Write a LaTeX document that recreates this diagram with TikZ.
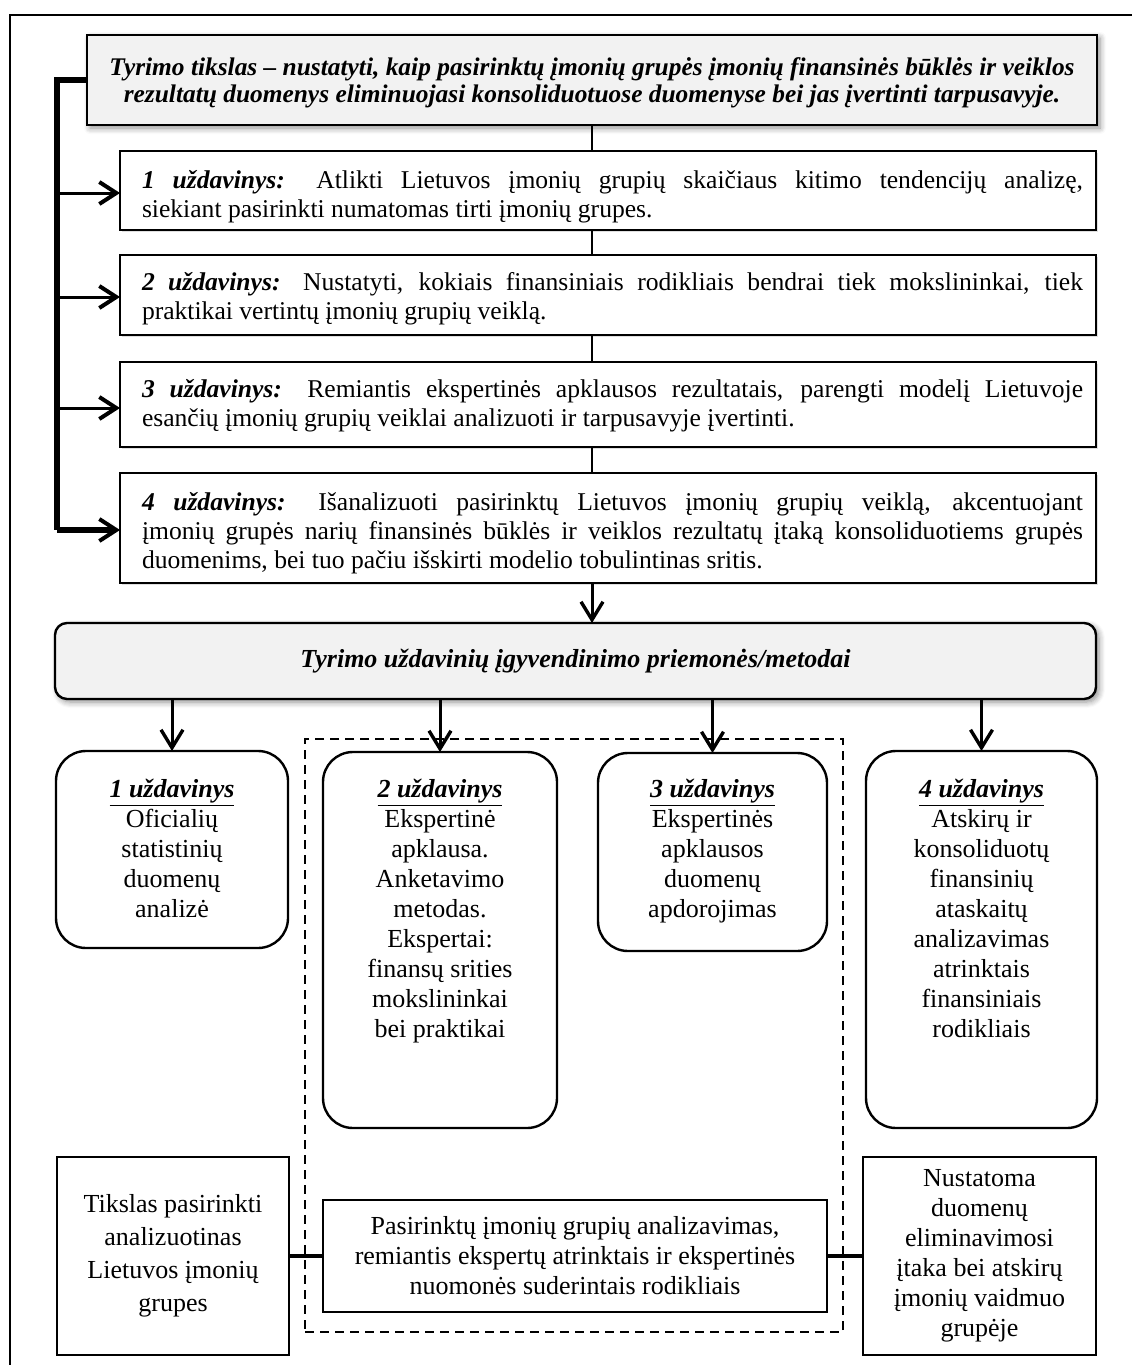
\documentclass[tikz,border=0pt]{standalone}
\usepackage{fontspec}
\setmainfont{Liberation Serif}
\usetikzlibrary{arrows.meta,shadows,shadows.blur}

\definecolor{boxgray}{RGB}{242,242,242}

\newcommand{\taskfont}{\fontsize{12.8pt}{14.5pt}\selectfont}
\newcommand{\bodyfont}{\fontsize{13pt}{15pt}\selectfont}
\newcommand{\firstline}{\rule{0pt}{11pt}}
\newcommand{\tasklabel}[1]{\firstline\textbf{\textit{#1}}}
\newcommand{\headlabel}[1]{\underline{\textbf{\textit{#1}}}}

\begin{document}
\begin{tikzpicture}[x=0.5pt,y=-0.5pt,
  every node/.style={inner sep=0pt,outer sep=0pt},
  frameline/.style={line width=1pt},
  plainbox/.style={draw,line width=1.2pt,fill=white},
  taskbox/.style={plainbox,minimum width=488pt,
    drop shadow={shadow xshift=1pt,shadow yshift=-1pt,opacity=0.25}},
  graybox/.style={draw,line width=1.2pt,fill=boxgray,
    blur shadow={shadow xshift=1.5pt,shadow yshift=-1.5pt,shadow blur radius=3pt,shadow blur steps=6,shadow opacity=45}},
  roundbox/.style={plainbox,rounded corners=15pt},
  tasktext/.style={text width=470.5pt,align=justify,font=\taskfont,anchor=north},
  bodytext/.style={align=center,font=\bodyfont},
  bus/.style={line width=3pt},
  link/.style={line width=1.2pt},
  feedtip/.style={-{Straight Barb[length=8.5pt,width=11pt,line width=2pt]}},
  feed/.style={line width=1.5pt,feedtip},
  drop/.style={line width=1.5pt,-{Straight Barb[length=9pt,width=11pt,line width=1.7pt]}},
  outlink/.style={line width=2pt},
  group/.style={draw,line width=1pt,dash pattern=on 4.5pt off 3pt}
]
\useasboundingbox (0,0) rectangle (1140,1365);

% page frame
\draw[frameline] (10,1370) -- (10,15) -- (1132,15);

% research goal
\node[graybox,minimum width=505pt,minimum height=45pt] (goal) at (592,80) {};
\node[align=center,font=\fontsize{12.7pt}{13.5pt}\selectfont\bfseries\itshape,anchor=north] (goaltext) at (592,53)
  {\firstline Tyrimo tikslas -- nustatyti, kaip pasirinktų įmonių grupės įmonių finansinės būklės ir veiklos\\
   rezultatų duomenys eliminuojasi konsoliduotuose duomenyse bei jas įvertinti tarpusavyje.};

% tasks
\node[taskbox,minimum height=39.5pt] (t1) at (608,190.5) {};
\node[tasktext] (t1text) at (612.5,166)
  {\tasklabel{1 uždavinys:} Atlikti Lietuvos įmonių grupių skaičiaus kitimo tendencijų analizę,\linebreak
   siekiant pasirinkti numatomas tirti įmonių grupes.};

\node[taskbox,minimum height=40pt] (t2) at (608,295) {};
\node[tasktext] (t2text) at (612.5,268)
  {\tasklabel{2 uždavinys:} Nustatyti, kokiais finansiniais rodikliais bendrai tiek mokslininkai, tiek\linebreak
   praktikai vertintų įmonių grupių veiklą.};

\node[taskbox,minimum height=42.5pt] (t3) at (608,404.5) {};
\node[tasktext] (t3text) at (612.5,375)
  {\tasklabel{3 uždavinys:} Remiantis ekspertinės apklausos rezultatais, parengti modelį Lietuvoje\linebreak
   esančių įmonių grupių veiklai analizuoti ir tarpusavyje įvertinti.};

\node[taskbox,minimum height=55pt] (t4) at (608,528) {};
\node[tasktext] (t4text) at (612.5,488)
  {\tasklabel{4 uždavinys:} Išanalizuoti pasirinktų Lietuvos įmonių grupių veiklą, akcentuojant\linebreak
   įmonių grupės narių finansinės būklės ir veiklos rezultatų įtaką konsoliduotiems grupės\linebreak
   duomenims, bei tuo pačiu išskirti modelio tobulintinas sritis.};

% methods
\node[graybox,rounded corners=6pt,minimum width=520.5pt,minimum height=38pt,
      font=\fontsize{13pt}{15pt}\selectfont\bfseries\itshape] (meth) at (575.5,661)
  {Tyrimo uždavinių įgyvendinimo priemonės/metodai};

% dashed group around tasks 2 and 3
\node[group,minimum width=269pt,minimum height=296.5pt] (grp) at (574,1035.5) {};

% method boxes
\node[roundbox,minimum width=116pt,minimum height=98.5pt] (r1) at (172,849.5) {};
\node[roundbox,minimum width=117pt,minimum height=188pt] (r2) at (440,940) {};
\node[roundbox,minimum width=114.5pt,minimum height=99pt] (r3) at (712.5,852) {};
\node[roundbox,minimum width=115.5pt,minimum height=188.5pt] (r4) at (981.5,939.5) {};

\node[bodytext,anchor=north] (r1text) at (172,779)
  {\headlabel{1 uždavinys}\\ Oficialių\\ statistinių\\ duomenų\\ analizė};
\node[bodytext,anchor=north] (r2text) at (440,779)
  {\headlabel{2 uždavinys}\\ Ekspertinė\\ apklausa.\\ Anketavimo\\ metodas.\\ Ekspertai:\\ finansų srities\\ mokslininkai\\ bei praktikai};
\node[bodytext,anchor=north] (r3text) at (712.5,779)
  {\headlabel{3 uždavinys}\\ Ekspertinės\\ apklausos\\ duomenų\\ apdorojimas};
\node[bodytext,anchor=north] (r4text) at (981.5,779)
  {\headlabel{4 uždavinys}\\ Atskirų ir\\ konsoliduotų\\ finansinių\\ ataskaitų\\ analizavimas\\ atrinktais\\ finansiniais\\ rodikliais};

% outcome boxes
\node[plainbox,minimum width=116pt,minimum height=99pt,bodytext,
      font=\fontsize{13pt}{16.5pt}\selectfont] (b1) at (173,1256)
  {Tikslas pasirinkti\\ analizuotinas\\ Lietuvos įmonių\\ grupes};
\node[plainbox,minimum width=252pt,minimum height=56pt,bodytext] (mid) at (575,1256)
  {Pasirinktų įmonių grupių analizavimas,\\ remiantis ekspertų atrinktais ir ekspertinės\\ nuomonės suderintais rodikliais};
\node[plainbox,minimum width=116.5pt,minimum height=99pt,bodytext] (b3) at (979.5,1256)
  {Nustatoma\\ duomenų\\ eliminavimosi\\ įtaka bei atskirų\\ įmonių vaidmuo\\ grupėje};

% left feed bus from the goal to every task
\coordinate (bustop) at (57,80);
\coordinate (a1) at (57,193);
\coordinate (a2) at (57,297);
\coordinate (a3) at (57,408);
\coordinate (a4) at (57,530);
\draw[bus] (goal.west) -- (bustop) -- (a4);
\draw[feed] (a1) -- (a1 -| t1.west);
\draw[feed] (a2) -- (a2 -| t2.west);
\draw[feed] (a3) -- (a3 -| t3.west);
\draw[bus,feedtip] (a4) -- (a4 -| t4.west);

% central chain
\draw[link] (goal.south) -- (goal.south |- t1.north);
\draw[link] (goal.south |- t1.south) -- (goal.south |- t2.north);
\draw[link] (goal.south |- t2.south) -- (goal.south |- t3.north);
\draw[link] (goal.south |- t3.south) -- (goal.south |- t4.north);
\draw[drop] (goal.south |- t4.south) -- (goal.south |- meth.north);

% methods to the four task methods
\draw[drop] (meth.south -| r1.north) -- (r1.north);
\draw[drop] (meth.south -| r2.north) -- (r2.north);
\draw[drop] (meth.south -| r3.north) -- (r3.north);
\draw[drop] (meth.south -| r4.north) -- (r4.north);

% outcome links
\draw[outlink] (b1.east) -- (mid.west);
\draw[outlink] (mid.east) -- (b3.west);
\end{tikzpicture}
\end{document}
